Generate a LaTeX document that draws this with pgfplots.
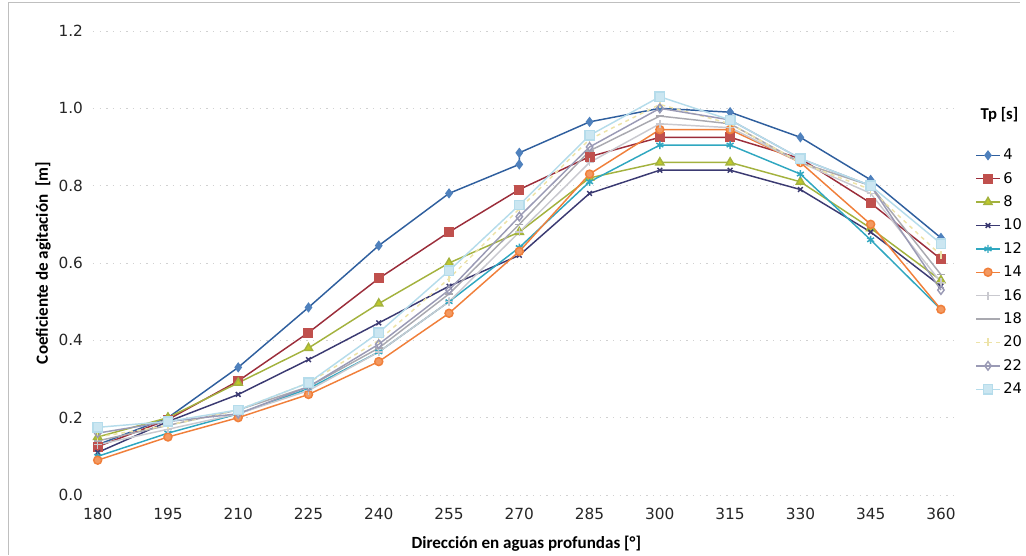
\documentclass[border=0pt]{standalone}
\usepackage{pgfplots}
\pgfplotsset{compat=1.18}
\usepackage{pgfplotstable}
\usepackage{fontspec}
\setmainfont{DejaVu Sans}
\newfontfamily\labfont{Carlito}
\definecolor{c4}{HTML}{2F5F9E}
\definecolor{c4m}{HTML}{4F81BD}
\definecolor{c6}{HTML}{9B2D3A}
\definecolor{c6m}{HTML}{C0504D}
\definecolor{c8}{HTML}{A3B23E}
\definecolor{c10}{HTML}{3B3A72}
\definecolor{c12}{HTML}{2FA7C0}
\definecolor{c14}{HTML}{F07F3A}
\definecolor{c16}{HTML}{C9C9CF}
\definecolor{c18}{HTML}{A9A9B0}
\definecolor{c20}{HTML}{EDE3A8}
\definecolor{c22}{HTML}{9A9AB5}
\definecolor{c24}{HTML}{B5DCEB}
\pgfplotstableread{
x s6 s8 s10 s12 s14 s16 s18 s20 s22 s24
180 0.125 0.15 0.11 0.10 0.09 0.13 0.14 0.15 0.16 0.175
195 0.195 0.20 0.19 0.16 0.15 0.17 0.18 0.18 0.19 0.19
210 0.295 0.29 0.26 0.21 0.20 0.21 0.22 0.22 0.21 0.22
225 0.42 0.38 0.35 0.275 0.26 0.27 0.28 0.29 0.28 0.29
240 0.56 0.495 0.445 0.37 0.345 0.37 0.38 0.40 0.39 0.42
255 0.68 0.60 0.54 0.50 0.47 0.50 0.52 0.56 0.53 0.58
270 0.79 0.68 0.62 0.64 0.63 0.68 0.70 0.74 0.72 0.75
285 0.875 0.82 0.78 0.81 0.83 0.86 0.89 0.92 0.90 0.93
300 0.925 0.86 0.84 0.905 0.945 0.96 0.98 1.01 1.00 1.03
315 0.925 0.86 0.84 0.905 0.945 0.95 0.96 0.96 0.97 0.97
330 0.87 0.81 0.79 0.83 0.86 0.86 0.86 0.86 0.87 0.87
345 0.755 0.69 0.68 0.66 0.70 0.78 0.80 0.79 0.80 0.80
360 0.61 0.555 0.54 0.48 0.48 0.55 0.57 0.62 0.53 0.65
}\data
\pgfplotstableread{
x s4
180 0.13
195 0.20
210 0.33
225 0.485
240 0.645
255 0.78
270 0.855
270 0.885
285 0.965
300 1.00
315 0.99
330 0.925
345 0.815
360 0.665
}\dataA
\begin{document}
\begin{tikzpicture}
\path[use as bounding box] (0pt,0pt) rectangle (769.5pt,417pt);
\draw[black!25, line width=0.5pt] (6pt,1pt) -- (6pt,415pt) -- (765pt,415pt);
\begin{axis}[
  at={(69.75pt,45.75pt)}, anchor=south west,
  scale only axis, width=650pt, height=348pt,
  xmin=179, xmax=364, ymin=0, ymax=1.2,
  xtick={180,195,...,360}, ytick={0,0.2,...,1.2},
  y tick label style={/pgf/number format/fixed, /pgf/number format/fixed zerofill, /pgf/number format/precision=1},
  /pgf/number format/assume math mode=true,
  axis line style={draw=none}, major tick length=0pt,
  ymajorgrids, major grid style={black!18, dash pattern=on 1pt off 4pt, line width=0.7pt},
  tick label style={font=\fontsize{11.5}{13}\selectfont, text=black!85},
  xticklabel style={yshift=-6pt},
  yticklabel style={xshift=-4pt},
  xlabel={\labfont\bfseries Dirección en aguas profundas [°]},
  ylabel={\labfont\bfseries Coeficiente de agitación\ \ [m]},
  xlabel style={font=\fontsize{12.8}{14}\selectfont, yshift=-6pt},
  ylabel style={font=\fontsize{12.8}{14}\selectfont, yshift=-1pt},
  legend style={at={(1.0177,0.752)}, anchor=north west, draw=none, fill=none,
    font=\fontsize{11}{12}\selectfont, row sep=3.9pt, inner sep=0pt,
    /tikz/every even column/.append style={column sep=2pt}},
  legend cell align=left,
  legend image code/.code={\draw[#1] (0pt,0pt) -- (9pt,0pt) (9pt,0pt) -- (18pt,0pt);
    \path[#1] plot coordinates {(9pt,0pt)};},
  every axis plot/.append style={line width=1.1pt},
]
\addplot[c4, mark=diamond*, mark size=3pt, mark options={fill=c4m, draw=c4m}] table[x=x,y=s4]{\dataA};
\addlegendentry{4}
\addplot[c6, mark=square*, mark size=3.2pt, mark options={fill=c6m, draw=c6m}] table[x=x,y=s6]{\data};
\addlegendentry{6}
\addplot[c8, mark=triangle*, mark size=3.5pt, mark options={fill=c8!70!yellow, draw=c8}] table[x=x,y=s8]{\data};
\addlegendentry{8}
\addplot[c10, mark=x, mark size=2.5pt] table[x=x,y=s10]{\data};
\addlegendentry{10}
\addplot[c12, mark=asterisk, mark size=3pt] table[x=x,y=s12]{\data};
\addlegendentry{12}
\addplot[c14, mark=*, mark size=3pt, mark options={fill=c14!80!white}] table[x=x,y=s14]{\data};
\addlegendentry{14}
\addplot[c16, mark=+, mark size=3pt] table[x=x,y=s16]{\data};
\addlegendentry{16}
\addplot[c18, mark=-, mark size=3pt] table[x=x,y=s18]{\data};
\addlegendentry{18}
\addplot[c20, dashed, mark=|, mark size=3pt, mark options={solid}] table[x=x,y=s20]{\data};
\addlegendentry{20}
\addplot[c22, mark=diamond, mark size=3.2pt, mark options={fill=white}] table[x=x,y=s22]{\data};
\addlegendentry{22}
\addplot[c24, mark=square*, mark size=3.5pt, mark options={fill=c24!70!white}] table[x=x,y=s24]{\data};
\addlegendentry{24}
\end{axis}
\node[anchor=base west, font=\fontsize{12.5}{14}\selectfont\labfont\bfseries] at (732pt,327pt) {Tp [s]};
\end{tikzpicture}
\end{document}
